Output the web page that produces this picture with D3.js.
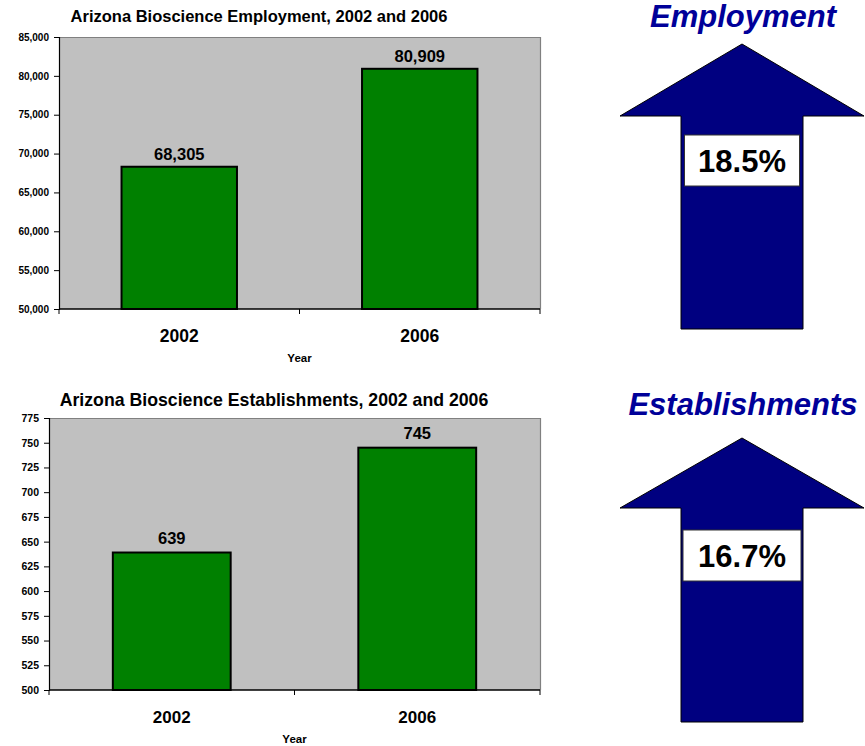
<!DOCTYPE html>
<html>
<head>
<meta charset="utf-8">
<script src="https://cdn.jsdelivr.net/npm/d3@7"></script>
<style>
  html, body { margin: 0; padding: 0; background: #fff; }
  text { font-family: Arial, "Liberation Sans", sans-serif; font-weight: bold; }
</style>
</head>
<body>
<svg id="chart" width="865" height="746"></svg>
<script>
// Data
const years = ["2002", "2006"];
const employment = [68305, 80909];
const establishments = [639, 745];
const employmentTicks = [50000, 55000, 60000, 65000, 70000, 75000, 80000, 85000];
const establishmentTicks = [500, 525, 550, 575, 600, 625, 650, 675, 700, 725, 750, 775];
const changeLabels = ["18.5%", "16.7%"];
const panelTitles = ["Employment", "Establishments"];

const svg = d3.select("#chart");

function barChart(cfg) {
  const g = svg.append("g");
  const x = d3.scaleBand().domain(years).range([cfg.left, cfg.right])
    .paddingInner(0.52).paddingOuter(0.26);
  const y = d3.scaleLinear().domain(cfg.domain).range([cfg.bottom, cfg.top]);

  // plot background
  g.append("rect")
    .attr("x", cfg.left).attr("y", cfg.top)
    .attr("width", cfg.right - cfg.left).attr("height", cfg.bottom - cfg.top)
    .attr("fill", "#c0c0c0");
  // top and right frame
  g.append("path")
    .attr("d", `M${cfg.left},${cfg.top + 0.5}H${cfg.right + 0.5}V${cfg.bottom}`)
    .attr("fill", "none").attr("stroke", "#808080").attr("stroke-width", 1.2);

  // bars
  g.selectAll("rect.bar").data(cfg.values).join("rect")
    .attr("class", "bar")
    .attr("x", (d, i) => x(years[i]))
    .attr("y", d => y(d))
    .attr("width", x.bandwidth())
    .attr("height", d => y(cfg.domain[0]) - y(d))
    .attr("fill", "#008000").attr("stroke", "#000").attr("stroke-width", 2);

  // value labels
  g.selectAll("text.val").data(cfg.values).join("text")
    .attr("class", "val")
    .attr("x", (d, i) => x(years[i]) + x.bandwidth() / 2)
    .attr("y", d => y(d) - cfg.valGap)
    .attr("text-anchor", "middle")
    .attr("font-size", cfg.valSize)
    .text(d => d3.format(",")(d));

  // y axis
  const ya = d3.axisLeft(y).tickValues(cfg.ticks).tickSize(5).tickPadding(5)
    .tickFormat(cfg.tickFormat);
  const yg = g.append("g").attr("transform", `translate(${cfg.left},0)`).call(ya);
  yg.select(".domain").attr("stroke", "#000").attr("stroke-width", 1.2);
  yg.selectAll(".tick line").attr("stroke", "#000");
  yg.selectAll(".tick text").attr("font-size", cfg.tickSize).attr("fill", "#000")
    .style("font-family", "Arial, 'Liberation Sans', sans-serif").style("font-weight", "bold");

  // x axis: baseline with ticks at category boundaries
  g.append("line")
    .attr("x1", cfg.left).attr("x2", cfg.right)
    .attr("y1", cfg.bottom).attr("y2", cfg.bottom)
    .attr("stroke", "#000").attr("stroke-width", 1.5);
  const bounds = [cfg.left, ...years.slice(1).map(c => x(c) - x.step() * x.paddingInner() / 2), cfg.right];
  g.selectAll("line.xt").data(bounds).join("line")
    .attr("class", "xt")
    .attr("x1", d => d).attr("x2", d => d)
    .attr("y1", cfg.bottom).attr("y2", cfg.bottom + 5)
    .attr("stroke", "#000");

  // category labels
  g.selectAll("text.cat").data(years).join("text")
    .attr("class", "cat")
    .attr("x", d => x(d) + x.bandwidth() / 2)
    .attr("y", cfg.bottom + 33)
    .attr("text-anchor", "middle")
    .attr("font-size", cfg.catSize)
    .text(d => d);

  // axis title
  g.append("text")
    .attr("x", (cfg.left + cfg.right) / 2)
    .attr("y", cfg.bottom + 53)
    .attr("text-anchor", "middle")
    .attr("font-size", cfg.yearSize)
    .text("Year");

  // chart title
  g.append("text")
    .attr("x", cfg.titleX).attr("y", cfg.titleY)
    .attr("text-anchor", "middle")
    .attr("font-size", cfg.titleSize)
    .text(cfg.title);
}

barChart({
  title: "Arizona Bioscience Employment, 2002 and 2006",
  titleX: 259, titleY: 22, titleSize: 16.5,
  values: employment, domain: [50000, 85000], ticks: employmentTicks,
  tickFormat: d3.format(","),
  left: 59, right: 540, top: 37, bottom: 309,
  valGap: 7, valSize: 16.5, tickSize: 10, catSize: 17.5, yearSize: 11.5
});

barChart({
  title: "Arizona Bioscience Establishments, 2002 and 2006",
  titleX: 274, titleY: 406, titleSize: 17.7,
  values: establishments, domain: [500, 775], ticks: establishmentTicks,
  tickFormat: d3.format("d"),
  left: 49, right: 540, top: 418, bottom: 690,
  valGap: 9, valSize: 16.5, tickSize: 10.5, catSize: 17, yearSize: 11.5
});

// Growth arrows
function growthArrow(cx, tipY, baseY, endY, label, boxTop, boxH, boxW, title, titleY) {
  const headHalf = 122, shaftHalf = 61;
  const pts = [
    [cx, tipY], [cx + headHalf, baseY], [cx + shaftHalf, baseY], [cx + shaftHalf, endY],
    [cx - shaftHalf, endY], [cx - shaftHalf, baseY], [cx - headHalf, baseY]
  ];
  svg.append("path")
    .attr("d", d3.line()(pts) + "Z")
    .attr("fill", "#000080").attr("stroke", "#000").attr("stroke-width", 1);
  svg.append("rect")
    .attr("x", cx - boxW / 2).attr("y", boxTop)
    .attr("width", boxW).attr("height", boxH)
    .attr("fill", "#fff").attr("stroke", "#333").attr("stroke-width", 1);
  svg.append("text")
    .attr("x", cx).attr("y", boxTop + boxH / 2 + 11)
    .attr("text-anchor", "middle").attr("font-size", 31).attr("fill", "#000")
    .text(label);
  svg.append("text")
    .attr("x", cx + 1).attr("y", titleY)
    .attr("text-anchor", "middle").attr("font-size", 31)
    .attr("font-style", "italic").attr("fill", "#000099")
    .text(title);
}

growthArrow(742, 44, 116, 329, changeLabels[0], 135, 51, 115, panelTitles[0], 27);
growthArrow(742, 438, 508, 722, changeLabels[1], 530, 51, 118, panelTitles[1], 415);
</script>
</body>
</html>
